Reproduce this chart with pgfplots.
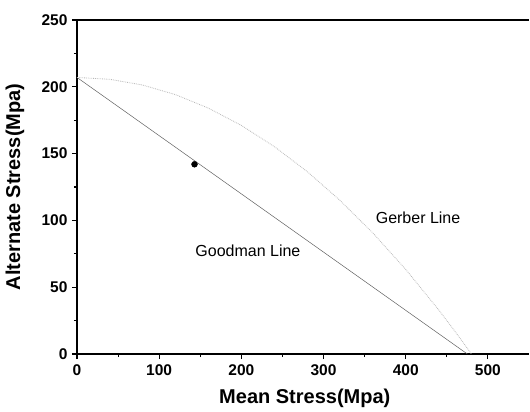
\documentclass[border=0pt]{standalone}
\usepackage{pgfplots}
\pgfplotsset{compat=1.18}
\usepackage{fontspec}
\setmainfont{Liberation Sans}

\begin{document}
\begin{tikzpicture}
% frame of the whole picture (530 x 412), axis box at (77..529, 20..354)
\useasboundingbox (-77pt,-58pt) rectangle (453pt,354pt);
\begin{axis}[
  at={(0pt,0pt)}, anchor=south west,
  scale only axis,
  width=452pt, height=334pt,
  xmin=0, xmax=550, ymin=0, ymax=250,
  axis lines=left,
  axis line style={-, line width=1.3pt},
  xtick={0,100,200,300,400,500},
  ytick={0,50,100,150,200,250},
  minor tick num=1,
  tick align=outside,
  major tick length=5pt,
  minor tick length=3pt,
  every tick/.style={black, line width=1.1pt},
  /pgf/number format/assume math mode=true,
  ticklabel style={font=\fontsize{15.5}{18}\selectfont\bfseries},
  xticklabel style={yshift=-2pt},
  yticklabel style={xshift=-1pt},
  xlabel={Mean Stress(Mpa)},
  ylabel={Alternate Stress(Mpa)},
  label style={font=\fontsize{20}{23}\selectfont\bfseries},
  xlabel style={at={(axis description cs:0.504,-0.132)}, anchor=center},
  ylabel style={at={(axis description cs:-0.137,0.5)}, anchor=center},
  clip=false,
]
% Goodman line
\addplot[gray!75!black, line width=0.5pt] coordinates {(0,207) (475,0)};
% Gerber line
\addplot[gray!55, densely dotted, line width=0.8pt] coordinates {
  (0,207) (40,205.6) (80,201.3) (120,194.1) (160,184.0) (200,171.1)
  (240,155.3) (280,136.6) (320,115.0) (360,90.6) (400,63.3)
  (440,33.1) (460,16.9) (480,0)
};
% operating point
\addplot[only marks, mark=*, mark size=3pt, black] coordinates {(143,142)};
\node[font=\fontsize{16}{18}\selectfont] at (axis cs:208,77) {Goodman Line};
\node[font=\fontsize{16}{18}\selectfont] at (axis cs:415,102) {Gerber Line};
\draw[line width=1.3pt] (rel axis cs:0,1) -- (rel axis cs:1,1);
\end{axis}
\end{tikzpicture}
\end{document}
